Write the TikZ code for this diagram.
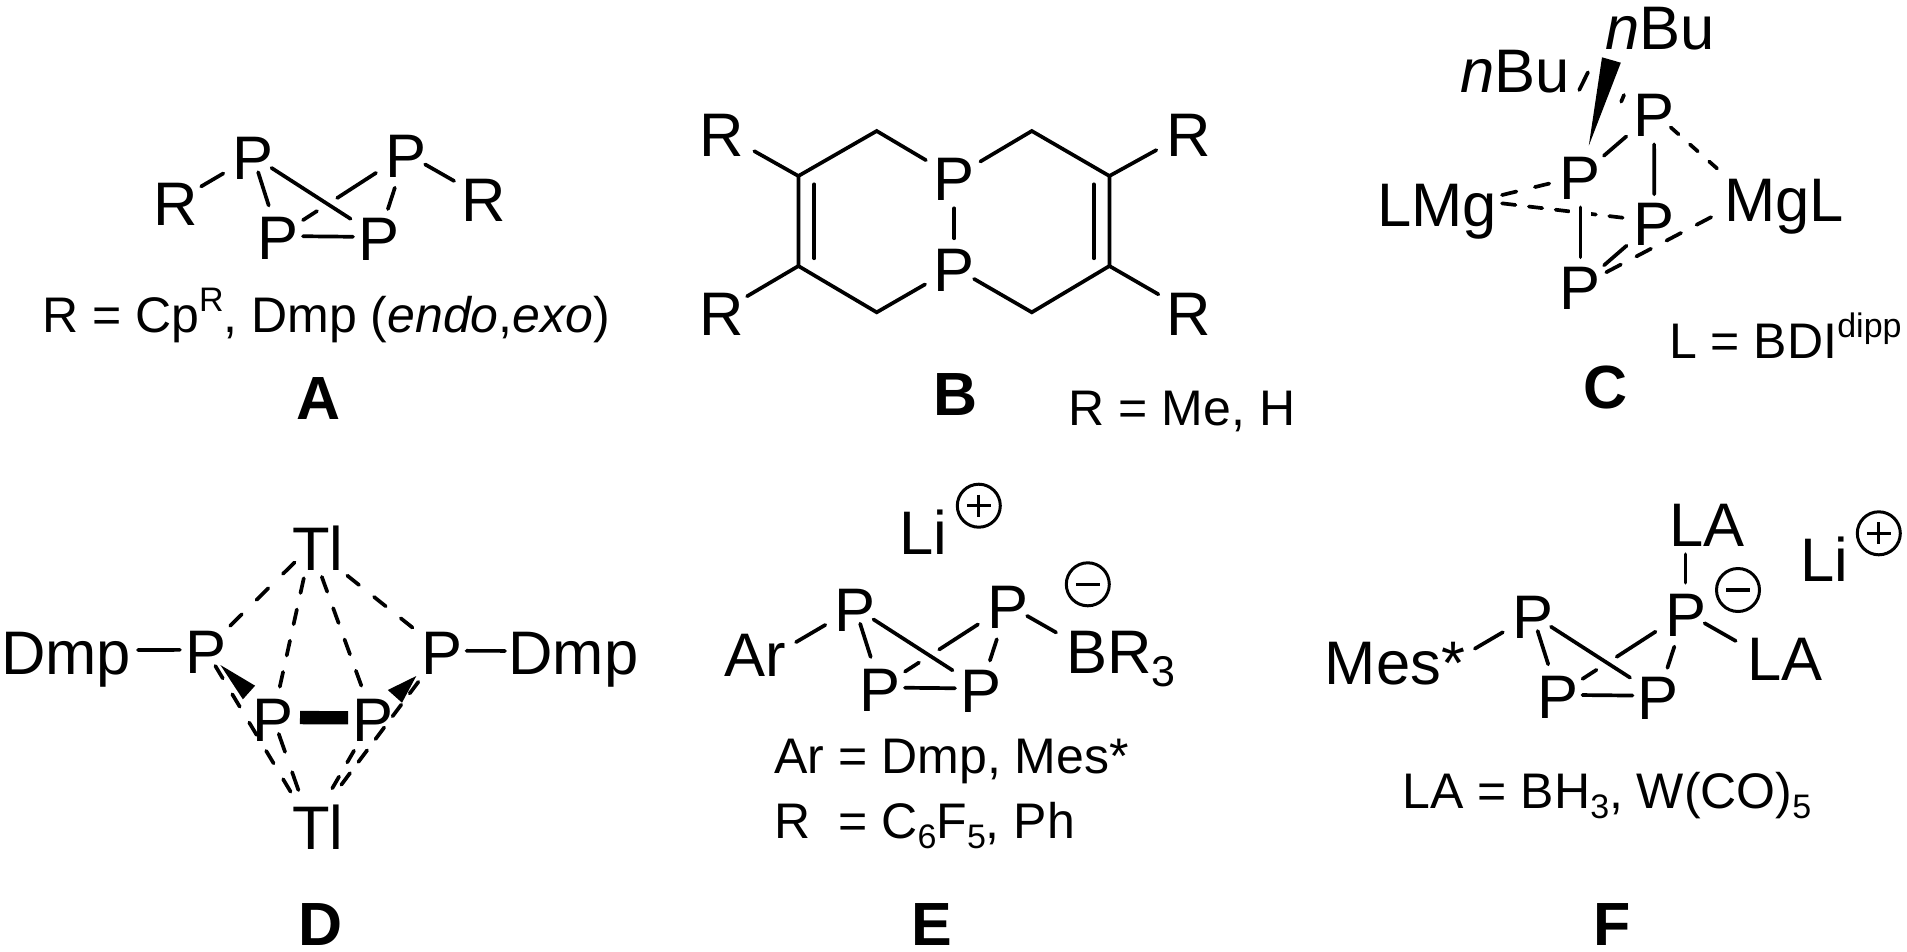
\documentclass[tikz,border=0pt]{standalone}
\usepackage{fontspec}
\setmainfont{Liberation Sans}
\usetikzlibrary{calc}
\newcommand\atomfont{\fontsize{61.5}{61.5}\selectfont}
\newcommand\letterfont{\fontsize{61}{61}\selectfont}
\newcommand\notefont{\fontsize{50}{50}\selectfont}
\newcommand\smallfont{\fontsize{34}{34}\selectfont}
\newcommand\subtxt[1]{\raisebox{-10pt}{\smallfont #1}}
\newcommand\suptxt[1]{\raisebox{20.6pt}{\smallfont #1}}
\tikzset{
  atom/.style={inner sep=0pt,outer sep=0pt,font=\atomfont,text height=47.8pt,text depth=0pt,anchor=center},
  note/.style={inner sep=0pt,outer sep=0pt,font=\notefont,anchor=base},
  notew/.style={inner sep=0pt,outer sep=0pt,font=\notefont,anchor=base west},
  letter/.style={inner sep=0pt,outer sep=0pt,font=\letterfont\bfseries,anchor=base},
  bond/.style={line width=3.7pt,line cap=round,line join=miter,black},
  dbond/.style 2 args={bond,dash pattern=on #1pt off #2pt},
  sh/.style 2 args={shorten <=#1pt,shorten >=#2pt},
  chargec/.style={circle,draw,line width=3pt,minimum size=43pt,inner sep=0pt,outer sep=0pt},
  chargebar/.style={line width=3.2pt,line cap=butt},
}
% P4 ring with its two outward bonds
\newcommand\Pring[5]{%
  \begin{scope}[shift={(#2,#3)}]
    \node[atom] (#11) at (253,156) {P};
    \node[atom] (#12) at (406,153.5) {P};
    \node[atom] (#13) at (278.4,236) {P};
    \node[atom] (#14) at (378.8,237) {P};
    \coordinate (#1L) at (175.5,201.5);
    \coordinate (#1R) at (484,198);
  \end{scope}
  \draw[bond,sh={#4}{34.4}] (#1L) -- (#11.center);
  \draw[bond,sh={17}{32}] (#11.center) -- (#13.center);
  \draw[bond,sh={22}{33.6}] (#11.center) -- (#14.center);
  \draw[bond,sh={36}{29.4}] (#12.center) -- (#14.center);
  \draw[bond,sh={35.7}{70}] (#12.center) -- (#13.center);
  \draw[bond,sh={106}{29.3}] (#12.center) -- (#13.center);
  \draw[bond,sh={24.5}{25.8}] (#13.center) -- (#14.center);
  \draw[bond,sh={22}{#5}] (#12.center) -- (#1R);
}
\newcommand\Plus[3]{%
  \node[chargec] (#1) at (#2,#3) {};
  \draw[chargebar] ($(#1.center)+(-12,0)$) -- ($(#1.center)+(12,0)$);
  \draw[chargebar] ($(#1.center)+(0,-11)$) -- ($(#1.center)+(0,11)$);
}
\newcommand\Minus[3]{%
  \node[chargec] (#1) at (#2,#3) {};
  \draw[chargebar] ($(#1.center)+(-12,0)$) -- ($(#1.center)+(12,0)$);
}
\begin{document}
\begin{tikzpicture}[x=1pt,y=-1pt]
\path[fill=white,use as bounding box] (0,0) rectangle (1907,951);
%% ---------- A
\Pring{a}{0}{0}{29.7}{34.4}
\node[atom] (aRl) at (aL) {R};
\node[atom] (aRr) at (aR) {R};
\node[note] (aNote) at (326,332.3) {R = Cp\suptxt{R}, Dmp (\textit{endo},\textit{exo})};
\node[letter] (aLab) at (319,419) {A};
%% ---------- B
\node[atom] (bPu) at (954.3,177) {P};
\node[atom] (bPl) at (954.3,267.5) {P};
\coordinate (bT1) at (876.7,131);
\coordinate (bL1) at (798.4,176);
\coordinate (bL2) at (798.4,266);
\coordinate (bB1) at (876.7,312.3);
\coordinate (bT2) at (1031.8,131);
\coordinate (bR1) at (1109.4,176);
\coordinate (bR2) at (1109.4,266);
\coordinate (bB2) at (1031.8,312.3);
\node[atom] (bRul) at (721.2,132.5) {R};
\node[atom] (bRur) at (1188.2,132.5) {R};
\node[atom] (bRll) at (721.2,311.5) {R};
\node[atom] (bRlr) at (1188.2,311.5) {R};
\draw[bond,sh={33}{33.7}] (bPu.center) -- (bT1) -- (bL1) -- (bL2) -- (bB1) -- (bPl.center);
\draw[bond,sh={30.3}{22.8}] (bPu.center) -- (bT2) -- (bR1) -- (bR2) -- (bB2) -- (bPl.center);
\draw[bond,sh={31.3}{29.2}] (bPu.center) -- (bPl.center);
\draw[bond,shorten <=38pt] (bRul.center) -- (bL1);
\draw[bond,shorten <=30pt] (bRll.center) -- (bL2);
\draw[bond,shorten <=36.4pt] (bRur.center) -- (bR1);
\draw[bond,shorten <=34.4pt] (bRlr.center) -- (bR2);
\draw[bond] ($(bL1)+(15.9,8.3)$) -- ($(bL2)+(15.9,-7.7)$);
\draw[bond] ($(bR1)+(-15.5,8.3)$) -- ($(bR2)+(-15.5,-7.7)$);
\node[letter] (bLab) at (955.7,415.7) {B};
\node[note] (bNote) at (1182,425.7) {R = Me, H};
%% ---------- C
\node[atom] (cBu1) at (1660,25.1) {\textit{n}Bu};
\node[atom] (cBu2) at (1515.2,68.4) {\textit{n}Bu};
\node[atom] (cPt) at (1654,112.5) {P};
\node[atom] (cPl) at (1580.4,176) {P};
\node[atom] (cPr) at (1654.4,221.5) {P};
\node[atom] (cPb) at (1580.4,285.8) {P};
\node[atom] (cLMg) at (1437,202.8) {LMg};
\node[atom] (cMgL) at (1784.2,197.8) {MgL};
\coordinate (cA) at (1479,200.6);
\coordinate (cB) at (1749.3,197.1);
\fill ($(cPl.center)+(8.4,-30.3)$) -- ($(cBu1.center)+(-58,32.2)$) -- ($(cBu1.center)+(-39.2,37.6)$) -- cycle;
\draw[bond] ($(cPt.center)+(-66,-40.2)$) -- ($(cPt.center)+(-74.8,-22.5)$);
\draw[bond] ($(cPt.center)+(-30,-17.5)$) -- ($(cPt.center)+(-32.8,-10.8)$);
\draw[dbond={14.8}{19},sh={23.7}{29}] (cA) -- (cPl.center);
\draw[dbond={13.5}{13.5},sh={23.2}{23.3}] (cA) -- (cPr.center);
\draw[dbond={10.5}{15.2},sh={22.4}{39.2}] (cPt.center) -- (cB);
\draw[dbond={16.5}{17.5},sh={29.2}{39.6}] (cPb.center) -- (cB);
\draw[bond,sh={36.6}{31}] (cPt.center) -- (cPl.center);
\draw[bond,sh={31.8}{27.2}] (cPt.center) -- (cPr.center);
\draw[bond,sh={36.9}{31.3}] (cPr.center) -- (cPb.center);
\draw[white,line width=21pt,sh={31.3}{28.5}] (cPl.center) -- (cPb.center);
\draw[bond,sh={31.3}{28.5}] (cPl.center) -- (cPb.center);
\node[note] (cNote) at (1785.4,358.3) {L = BDI\suptxt{dipp}};
\node[letter] (cLab) at (1605.4,408) {C};
%% ---------- D
\node[atom] (dTt) at (317.8,546.5) {Tl};
\node[atom] (dTb) at (317.8,826) {Tl};
\node[atom] (dP1) at (205.7,649.8) {P};
\node[atom] (dP2) at (441.6,650.8) {P};
\node[atom] (dP3) at (273,717.5) {P};
\node[atom] (dP4) at (373,717.8) {P};
\node[atom] (dDl) at (66,650.2) {Dmp};
\node[atom] (dDr) at (573.5,651) {Dmp};
\coordinate (dT1) at (310.8,546.5);
\coordinate (dT2) at (310.8,825.5);
\draw[bond,sh={72}{25.7}] (dDl.center) -- (dP1.center);
\draw[bond,sh={24.9}{68.5}] (dP2.center) -- (dDr.center);
\draw[dbond={16.5}{20.5},sh={22.6}{28.6}] (dT1) -- (dP1.center);
\draw[dbond={15}{19.2},sh={46.7}{33.8}] (dT1) -- (dP2.center);
\draw[dbond={15.1}{16.9},sh={32.5}{30}] (dT1) -- (dP3.center);
\draw[dbond={15.8}{17.5},sh={32.3}{32.9}] (dT1) -- (dP4.center);
\draw[dbond={14.5}{18.5},sh={18.8}{34.9}] (dP1.center) -- (dT2);
\draw[dbond={19}{21.5},sh={17.4}{32.4}] (dP3.center) -- (dT2);
\draw[dbond={14.5}{14},sh={38.8}{42.6}] (dP2.center) -- (dT2);
\draw[dbond={13.5}{16.4},sh={38}{39}] (dP4.center) -- (dT2);
\fill ($(dP1.center)+(14.7,15.2)$) -- ($(dP3.center)+(-17.9,-31.8)$) -- ($(dP3.center)+(-30.1,-18.2)$) -- cycle;
\fill ($(dP2.center)+(-25.3,25.2)$) -- ($(dP4.center)+(14.8,-27.8)$) -- ($(dP4.center)+(29,-15.1)$) -- cycle;
\draw[line width=13.3pt,line cap=butt,sh={27}{24.8}] (dP3.center) -- (dP4.center);
\node[letter] (dLab) at (320.8,945) {D};
%% ---------- E
\Pring{e}{602}{451.5}{21.5}{34.4}
\node[atom] (eLi) at (923.7,530.4) {Li};
\Plus{ePlus}{978.8}{505.7}
\Minus{eMinus}{1087.8}{584.3}
\node[atom] (eAr) at (754.9,652.9) {Ar};
\node[atom,anchor=west] (eBR) at (1066,649.4) {BR\raisebox{-13.4pt}{\fontsize{43}{43}\selectfont 3}};
\node[notew] (eN1) at (774.5,773.3) {Ar = Dmp, Mes*};
\node[notew] (eN2) at (774.5,838.3) {R\ \ = C\subtxt{6}F\subtxt{5}, Ph};
\node[letter] (eLab) at (931.8,945) {E};
%% ---------- F
\Pring{f}{1279.5}{458.8}{23}{32}
\node[atom] (fMes) at (1395,660.4) {Mes*};
\node[atom] (fLAt) at (1707.4,522.8) {LA};
\node[atom] (fLAr) at (1784.8,656.8) {LA};
\coordinate (fLt) at (1685.5,522.8);
\draw[bond,sh={29.6}{31.4}] (f2.center) -- (fLt);
\node[atom] (fLi) at (1824,557.1) {Li};
\Plus{fPlus}{1878.8}{533.3}
\Minus{fMinus}{1738}{590}
\node[note] (fNote) at (1607,808.3) {LA = BH\subtxt{3}, W(CO)\subtxt{5}};
\node[letter] (fLab) at (1612.6,945) {F};
\end{tikzpicture}
\end{document}
